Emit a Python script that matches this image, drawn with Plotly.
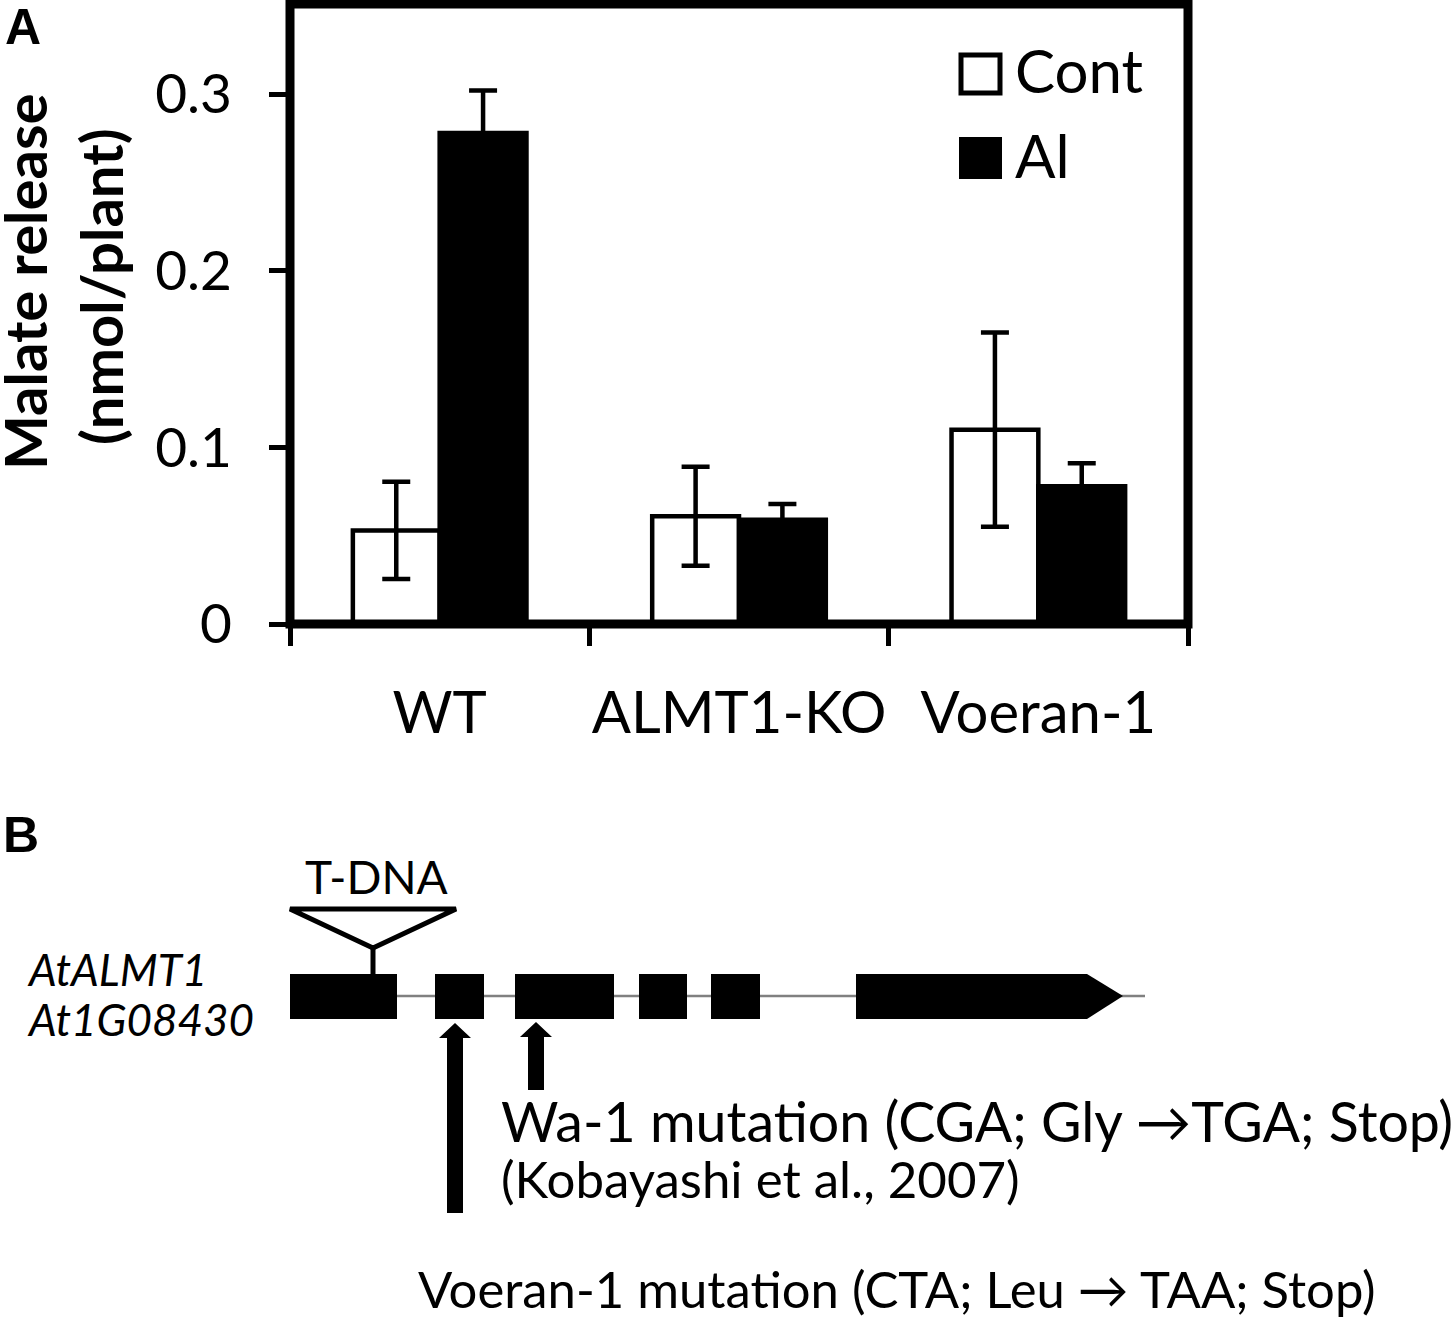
"""Malate release bars (A) and AtALMT1 gene model (B)."""

import plotly.graph_objects as go

W, H = 1454, 1318
FONT = "Lato"

lines = ["WT", "ALMT1-KO", "Voeran-1"]
cont = [0.053, 0.061, 0.110]
cont_err = [0.0275, 0.028, 0.055]
al = [0.278, 0.059, 0.078]
al_err = [0.024, 0.009, 0.013]
y_ticks = [0, 0.1, 0.2, 0.3]
y_labels = ["0", "0.1", "0.2", "0.3"]

# gene model, in page pixels
exons = [(290, 397), (435, 484), (515, 614), (639, 687), (711, 760)]
last_exon = (856, 1087, 1123)
intron_span = (397, 1145)
exon_y = (974, 1019)


def px(x):
    return x / W


def py(y):
    return 1 - y / H


def note(text, x, y, size, anchor="left", **kw):
    family = kw.pop("family", FONT)
    return dict(
        text=text, x=px(x), y=py(y), xref="paper", yref="paper",
        xanchor=anchor, yanchor="middle", showarrow=False, align="left",
        font=dict(family=family, size=size, color="black"), **kw,
    )


def box(x0, x1, y0, y1, fill="black", line=0):
    return dict(
        type="rect", xref="paper", yref="paper",
        x0=px(x0), x1=px(x1), y0=py(y0), y1=py(y1),
        fillcolor=fill, line=dict(color="black", width=line),
    )


def path(points, fill="black", line=0, closed=True):
    d = "M " + " L ".join(f"{px(x):.5f},{py(y):.5f}" for x, y in points)
    if closed:
        d += " Z"
    return dict(
        type="path", xref="paper", yref="paper", path=d,
        fillcolor=fill if closed else None,
        line=dict(color="black", width=line),
    )


def up_arrow(x, tip, bottom):
    return path([
        (x, tip), (x + 16, tip + 15), (x + 8, tip + 15), (x + 8, bottom),
        (x - 8, bottom), (x - 8, tip + 15), (x - 16, tip + 15),
    ])


fig = go.Figure()
err_style = dict(type="data", color="black", thickness=4.5, width=14)
fig.add_trace(go.Bar(
    x=lines, y=cont, name="Cont", marker=dict(color="white", line=dict(color="black", width=4.5)),
    error_y=dict(array=cont_err, **err_style),
))
fig.add_trace(go.Bar(
    x=lines, y=al, name="Al", marker=dict(color="black", line=dict(color="black", width=4.5)),
    error_y=dict(array=al_err, **err_style),
))

shapes = [
    # frame of panel A
    dict(type="rect", xref="paper", yref="paper", x0=px(290), x1=px(1188), y0=py(624), y1=py(4),
         line=dict(color="black", width=9), fillcolor="rgba(0,0,0,0)"),
    # legend keys
    box(961, 1000, 55, 93, fill="white", line=5),
    box(959, 1002, 137, 179),
    # intron line
    dict(type="line", xref="paper", yref="paper", x0=px(intron_span[0]), x1=px(intron_span[1]),
         y0=py(996), y1=py(996), line=dict(color="#808080", width=2.5)),
    # T-DNA insertion
    path([(290, 909), (456, 909), (373, 948)], fill="white", line=5),
    path([(373, 948), (373, 974)], line=5, closed=False),
    path([(last_exon[0], exon_y[0]), (last_exon[1], exon_y[0]), (last_exon[2], 996),
          (last_exon[1], exon_y[1]), (last_exon[0], exon_y[1])]),
    up_arrow(455, 1023, 1213),
    up_arrow(536, 1022, 1090),
]
shapes += [box(a, b, exon_y[0], exon_y[1]) for a, b in exons]

annotations = [
    note("<b>A</b>", 3, 27, 50, family="Liberation Sans"),
    note("<b>B</b>", 1, 835, 50, family="Liberation Sans"),
    note("<b>Malate release</b>", 24, 282, 58, anchor="center", textangle=-90),
    note("<b>(nmol/plant)</b>", 100, 287, 58, anchor="center", textangle=-90),
    note("Cont", 1013, 70, 60),
    note("Al", 1013, 155, 60),
    note("T-DNA", 376, 876, 46, anchor="center"),
    note("<span style='font-size:44px'><i>AtALMT1</i><br><i>At1G08430</i></span>", 25, 994, 38.5),
    note("<span style='font-size:55.5px'>Wa-1 mutation (CGA; Gly →TGA; Stop)</span><br>"
         "<span style='font-size:51px'>(Kobayashi et al., 2007)</span>", 499, 1148, 43),
    note("Voeran-1 mutation (CTA; Leu → TAA; Stop)", 416, 1288, 50.8),
]

fig.update_layout(
    width=W, height=H, margin=dict(l=0, r=0, t=0, b=0, autoexpand=False),
    paper_bgcolor="white", plot_bgcolor="white",
    barmode="group", bargap=0.42, bargroupgap=0,
    showlegend=False, shapes=shapes, annotations=annotations,
    font=dict(family=FONT, color="black"),
    xaxis=dict(
        domain=[px(290), px(1188)], type="category", tickson="boundaries",
        range=[-0.5, 2.5], ticks="outside", ticklen=21, tickwidth=5, tickcolor="black",
        tickangle=0, showgrid=False, showline=False, zeroline=False, ticklabelstandoff=50,
        tickfont=dict(family=FONT, size=58, color="black"),
    ),
    yaxis=dict(
        domain=[py(624), py(4)], range=[0, 0.351],
        tickvals=y_ticks, ticktext=y_labels,
        ticks="outside", ticklen=20, tickwidth=5, tickcolor="black",
        showgrid=False, showline=False, zeroline=False, ticklabelstandoff=26,
        tickfont=dict(family=FONT, size=55, color="black"),
    ),
)

fig.write_html(
    "out.html",
    config={"displayModeBar": False},
    post_script="document.body.style.margin='0';document.body.style.overflow='hidden';",
)
